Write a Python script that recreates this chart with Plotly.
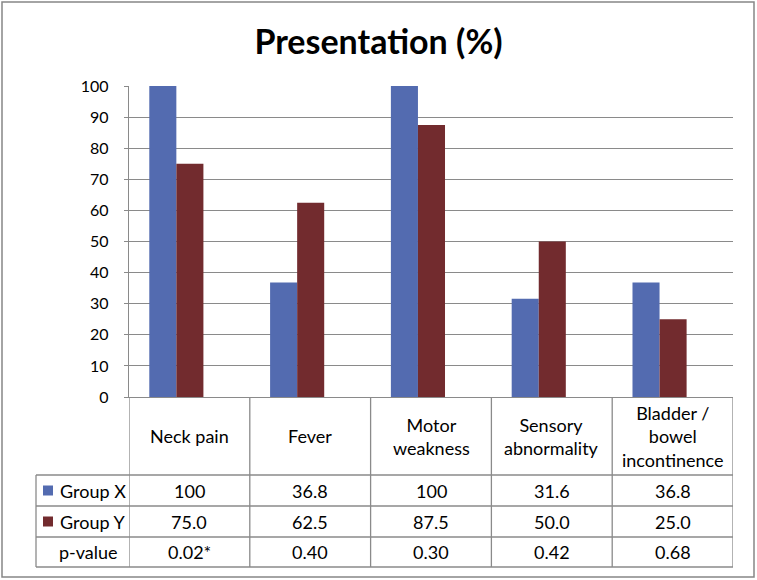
import plotly.graph_objects as go

# ---------------- data ----------------
categories = ["Neck pain", "Fever", "Motor<br>weakness", "Sensory<br>abnormality",
              "Bladder /<br>bowel<br>incontinence"]
group_x = [100, 36.8, 100, 31.6, 36.8]
group_y = [75.0, 62.5, 87.5, 50.0, 25.0]
p_values = ["0.02*", "0.40", "0.30", "0.42", "0.68"]
series_names = ["Group X", "Group Y"]
y_ticks = [0, 10, 20, 30, 40, 50, 60, 70, 80, 90, 100]

# ---------------- style ----------------
W, H = 757, 580
L, R, T, B = 129, 24, 86, 183
PW, PH = W - L - R, H - T - B
FONT = "Lato"
BLUE = "#536BB0"
RED = "#722B2E"
GRID = "#8A8A8A"
TXT = "#000000"

def pxx(px):
    return (px - L) / PW

def pxy(py):
    return (H - B - py) / PH

def fmt_x(v):
    return "100" if v == 100 else f"{v:.1f}"

n = len(categories)
idx = list(range(n))

fig = go.Figure()
fig.add_trace(go.Bar(x=idx, y=group_x, name=series_names[0], marker_color=BLUE,
                     marker_line_width=0, width=0.224, offset=-0.332))
fig.add_trace(go.Bar(x=idx, y=group_y, name=series_names[1], marker_color=RED,
                     marker_line_width=0, width=0.224, offset=-0.108))

shapes = []
annotations = []

# table geometry (pixels)
axis_py = H - B
header_bottom = 475
row_lines = [header_bottom, 506, 537, 567]
legend_left = 36

def line(x0, y0, x1, y1, xref="paper"):
    shapes.append(dict(type="line", xref=xref, yref="paper", x0=x0, x1=x1,
                       y0=y0, y1=y1, line=dict(color=GRID, width=1.3)))

# horizontal lines
for py in row_lines:
    line(pxx(legend_left), pxy(py), 1, pxy(py))
# vertical lines for category columns
for i in range(n + 1):
    line(i - 0.5, pxy(axis_py), i - 0.5, pxy(row_lines[-1]), xref="x")
# legend column left
line(pxx(legend_left), pxy(header_bottom), pxx(legend_left), pxy(row_lines[-1]))

# outer border
shapes.append(dict(type="rect", xref="paper", yref="paper",
                   x0=pxx(2), x1=pxx(754), y0=pxy(2), y1=pxy(577),
                   line=dict(color="#868686", width=1.5)))

# header labels
for i, c in enumerate(categories):
    annotations.append(dict(xref="x", yref="paper", x=i, y=pxy((axis_py + header_bottom) / 2),
                            text=c, showarrow=False, xanchor="center", yanchor="middle",
                            font=dict(family=FONT, size=18, color=TXT)))

rows = [[fmt_x(v) for v in group_x], [f"{v:.1f}" for v in group_y], p_values]
row_names = series_names + ["p-value"]
for r in range(3):
    yc = pxy((row_lines[r] + row_lines[r + 1]) / 2)
    for i in range(n):
        annotations.append(dict(xref="x", yref="paper", x=i, y=yc, text=rows[r][i],
                                showarrow=False, xanchor="center", yanchor="middle",
                                font=dict(family=FONT, size=18, color=TXT)))
    lx = 58 if r < 2 else 57
    annotations.append(dict(xref="paper", yref="paper", x=pxx(lx), y=yc, text=row_names[r],
                            showarrow=False, xanchor="left", yanchor="middle",
                            font=dict(family=FONT, size=18, color=TXT)))
    if r < 2:
        col = BLUE if r == 0 else RED
        py_c = (row_lines[r] + row_lines[r + 1]) / 2
        shapes.append(dict(type="rect", xref="paper", yref="paper",
                           x0=pxx(43), x1=pxx(53), y0=pxy(py_c - 5), y1=pxy(py_c + 5),
                           fillcolor=col, line=dict(width=0)))

fig.update_layout(
    width=W, height=H, autosize=False,
    margin=dict(l=L, r=R, t=T, b=B),
    paper_bgcolor="white", plot_bgcolor="white",
    showlegend=False, barmode="overlay",
    title=dict(text="<b>Presentation (%)</b>", x=0.5, xref="container", xanchor="center",
               y=1 - 42 / H, yref="container", yanchor="middle",
               font=dict(family=FONT, size=34, color=TXT)),
    xaxis=dict(range=[-0.5, n - 0.5], showticklabels=False, showgrid=False,
               zeroline=False, showline=True, linecolor=GRID, linewidth=1.3, ticks=""),
    yaxis=dict(range=[0, 100], tickvals=y_ticks, showgrid=True, gridcolor=GRID, gridwidth=1.3,
               zeroline=False, showline=True, linecolor=GRID, linewidth=1.3,
               ticks="outside", ticklen=4, tickcolor=GRID, tickwidth=1.3,
               ticklabelstandoff=12,
               tickfont=dict(family=FONT, size=16, color=TXT)),
    shapes=shapes, annotations=annotations,
)

fig.write_html("out.html", config={"displayModeBar": False},
               post_script="document.body.style.margin='0';")
